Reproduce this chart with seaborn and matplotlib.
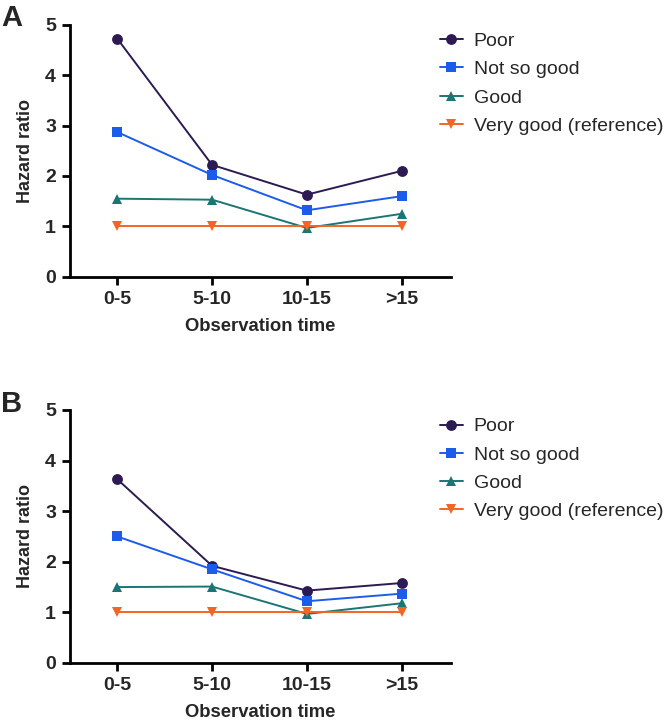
import matplotlib
matplotlib.use("Agg")
import matplotlib.pyplot as plt
import seaborn as sns
import pandas as pd

categories = ["0-5", "5-10", "10-15", ">15"]
groups = ["Poor", "Not so good", "Good", "Very good (reference)"]
panel_a = {
    "Poor": [4.72, 2.22, 1.63, 2.10],
    "Not so good": [2.87, 2.02, 1.32, 1.60],
    "Good": [1.55, 1.53, 0.97, 1.25],
    "Very good (reference)": [1.0, 1.0, 1.0, 1.0],
}
panel_b = {
    "Poor": [3.63, 1.92, 1.43, 1.58],
    "Not so good": [2.50, 1.85, 1.22, 1.37],
    "Good": [1.50, 1.51, 0.97, 1.18],
    "Very good (reference)": [1.0, 1.0, 1.0, 1.0],
}
colors = {"Poor": "#2D1A52", "Not so good": "#1C5CEB", "Good": "#1B7575",
          "Very good (reference)": "#F26522"}
markers = {"Poor": "o", "Not so good": "s", "Good": "^", "Very good (reference)": "v"}

sns.set_theme(style="ticks")
plt.rcParams['font.family'] = ['Liberation Sans', 'DejaVu Sans']

def long_df(d):
    rows = []
    for g in groups:
        for i, v in enumerate(d[g]):
            rows.append({"pos": i, "HR": v, "group": g})
    return pd.DataFrame(rows)

fig = plt.figure(figsize=(6.66, 7.23), dpi=100)
axA = fig.add_axes([0.105, 0.617, 0.572, 0.349])
axB = fig.add_axes([0.105, 0.083, 0.572, 0.350])

for ax, data, letter in [(axA, panel_a, "A"), (axB, panel_b, "B")]:
    df = long_df(data)
    sns.lineplot(data=df, x="pos", y="HR", hue="group", style="group",
                 hue_order=groups, style_order=groups, palette=colors,
                 markers=markers, dashes=False, markersize=7.8, linewidth=1.4,
                 markeredgewidth=0, ax=ax)
    ax.set_xlim(-0.5, 3.52)
    ax.set_ylim(0, 5)
    ax.set_xticks(range(len(categories)))
    ax.set_xticklabels(categories)
    ax.set_yticks([0, 1, 2, 3, 4, 5])
    for s in ["top", "right"]:
        ax.spines[s].set_visible(False)
    for s in ["left", "bottom"]:
        ax.spines[s].set_linewidth(2)
        ax.spines[s].set_color("black")
    ax.tick_params(axis="both", width=2, length=6, labelsize=14, color="black", pad=4)
    for lab in ax.get_xticklabels() + ax.get_yticklabels():
        lab.set_fontweight("bold")
    ax.set_xlabel("Observation time", fontsize=13.3, fontweight="bold", labelpad=7)
    ax.set_ylabel("Hazard ratio", fontsize=13, fontweight="bold", labelpad=8)
    sns.move_legend(ax, "upper left", bbox_to_anchor=(0.95, 1.0), frameon=False,
                    title=None, fontsize=14, handlelength=1.2, handletextpad=0.55,
                    labelspacing=0.55, borderaxespad=0)
    ax.text(-0.18, 1.08, letter, transform=ax.transAxes, fontsize=21,
            fontweight="bold", va="top", ha="left")

fig.savefig("out.png", dpi=100)
